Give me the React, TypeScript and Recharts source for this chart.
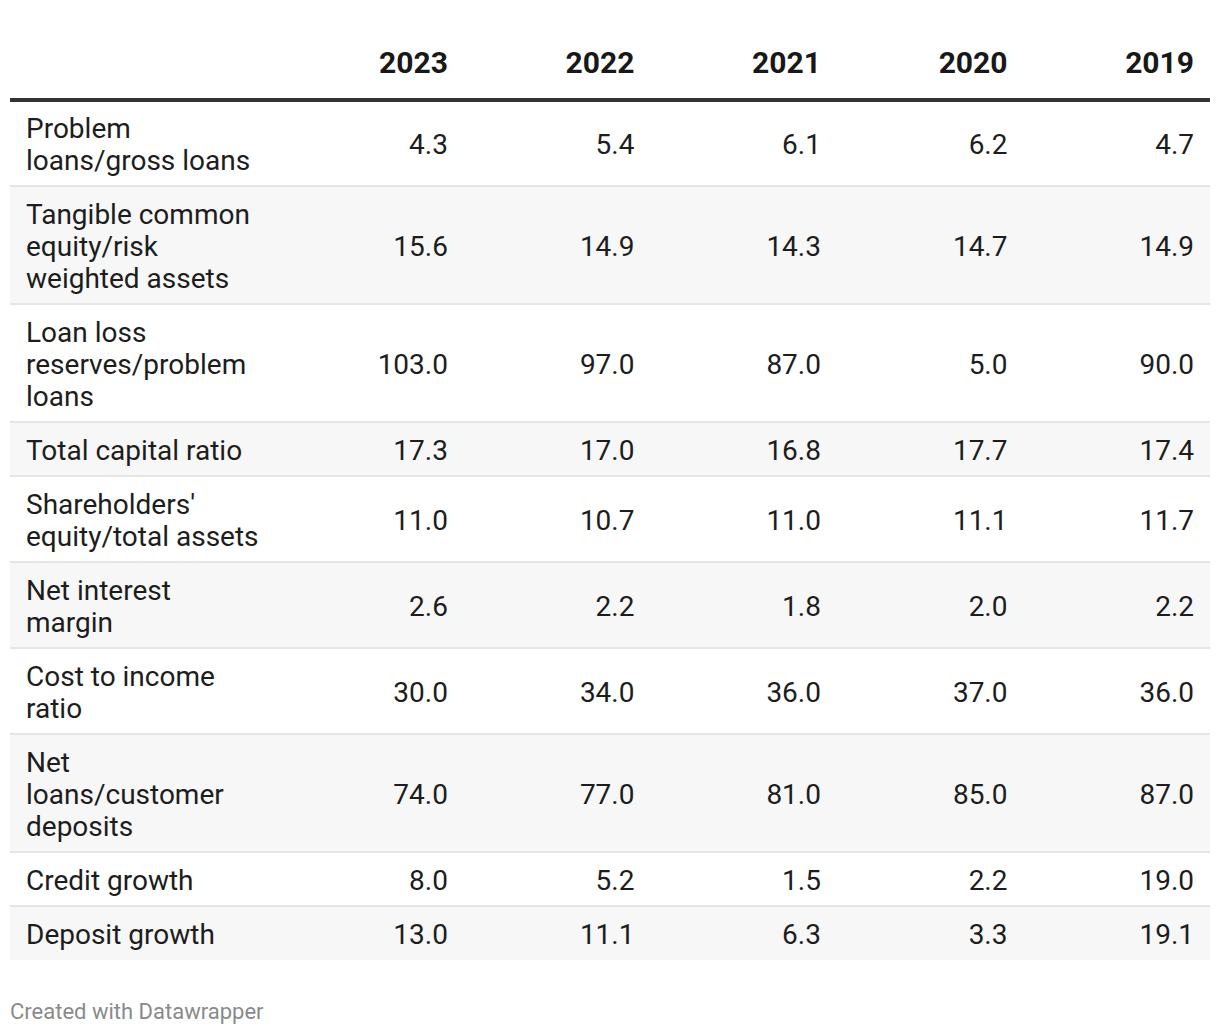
import {
  ComposedChart,
  ReferenceArea,
  ReferenceLine,
  Scatter,
  XAxis,
  YAxis,
} from "recharts";

// column headers
const years = ["2023", "2022", "2021", "2020", "2019"];

// row labels, already broken into lines as in the table
const rowLabels: string[][] = [
  ["Problem", "loans/gross loans"],
  ["Tangible common", "equity/risk", "weighted assets"],
  ["Loan loss", "reserves/problem", "loans"],
  ["Total capital ratio"],
  ["Shareholders'", "equity/total assets"],
  ["Net interest", "margin"],
  ["Cost to income", "ratio"],
  ["Net", "loans/customer", "deposits"],
  ["Credit growth"],
  ["Deposit growth"],
];

const values2023 = [4.3, 15.6, 103.0, 17.3, 11.0, 2.6, 30.0, 74.0, 8.0, 13.0];
const values2022 = [5.4, 14.9, 97.0, 17.0, 10.7, 2.2, 34.0, 77.0, 5.2, 11.1];
const values2021 = [6.1, 14.3, 87.0, 16.8, 11.0, 1.8, 36.0, 81.0, 1.5, 6.3];
const values2020 = [6.2, 14.7, 5.0, 17.7, 11.1, 2.0, 37.0, 85.0, 2.2, 3.3];
const values2019 = [4.7, 14.9, 90.0, 17.4, 11.7, 2.2, 36.0, 87.0, 19.0, 19.1];

const yearValues = [values2023, values2022, values2021, values2020, values2019];

// layout
const FONT = "Roboto, 'Noto Sans', sans-serif";
const LINE_H = 32;
const ROW_PAD = 22;
const LABEL_W = 1.434; // label column width, in value-column units
const CELL_PAD = 16;
const TEXT_COLOR = "#1d1d1d";

const rowHeights = rowLabels.map((l) => ROW_PAD + LINE_H * l.length);
const rowTops = rowHeights.map((_, i) => rowHeights.slice(0, i).reduce((a, b) => a + b, 0));
const tableHeight = rowHeights.reduce((a, b) => a + b, 0);
const xMax = LABEL_W + years.length;

type Cell = { x: number; y: number; lines: string[]; anchor: "start" | "end" };

const cells: Cell[] = [];
rowLabels.forEach((lines, r) => {
  const mid = rowTops[r] + rowHeights[r] / 2;
  cells.push({ x: 0, y: mid, lines, anchor: "start" });
  yearValues.forEach((vals, c) => {
    cells.push({ x: LABEL_W + c + 1, y: mid, lines: [vals[r].toFixed(1)], anchor: "end" });
  });
});

const CellText = (props: any) => {
  const { cx, cy, payload } = props;
  const n = payload.lines.length;
  const tx = payload.anchor === "start" ? cx + CELL_PAD : cx - CELL_PAD;
  return (
    <text
      x={tx}
      y={cy}
      textAnchor={payload.anchor}
      fontFamily={FONT}
      fontSize={28}
      fill={TEXT_COLOR}
    >
      {payload.lines.map((line: string, i: number) => (
        <tspan key={i} x={tx} y={cy + 1 + (i - (n - 1) / 2) * LINE_H} dominantBaseline="central">
          {line}
        </tspan>
      ))}
    </text>
  );
};

const YearTick = (props: any) => {
  const { x, y, index } = props;
  return (
    <text
      x={x - CELL_PAD}
      y={y - 30}
      textAnchor="end"
      dominantBaseline="central"
      fontFamily={FONT}
      fontSize={30}
      fontWeight={700}
      fill="#181818"
    >
      {years[index]}
    </text>
  );
};

export default function App() {
  return (
    <div
      style={{
        position: "absolute",
        left: 0,
        top: 0,
        width: 1220,
        height: 1036,
        background: "#fff",
      }}
    >
      <ComposedChart
        width={1220}
        height={1036}
        data={cells}
        margin={{ top: 40, right: 10, bottom: 76, left: 10 }}
      >
        <XAxis
          type="number"
          dataKey="x"
          orientation="top"
          domain={[0, xMax]}
          ticks={years.map((_, i) => LABEL_W + i + 1)}
          interval={0}
          height={60}
          axisLine={false}
          tickLine={false}
          tick={<YearTick />}
        />
        <YAxis type="number" dataKey="y" domain={[0, tableHeight]} reversed hide />

        {rowLabels.map((_, r) =>
          r % 2 === 1 ? (
            <ReferenceArea
              key={`bg-${r}`}
              y1={rowTops[r]}
              y2={rowTops[r] + rowHeights[r]}
              x1={0}
              x2={xMax}
              fill="#f7f7f7"
              fillOpacity={1}
              stroke="none"
            />
          ) : null
        )}
        {rowTops.slice(1).map((t, i) => (
          <ReferenceLine key={`sep-${i}`} y={t} stroke="#e5e5e5" strokeWidth={2} />
        ))}
        <ReferenceLine y={0} stroke="#333333" strokeWidth={4} />

        <Scatter data={cells} dataKey="y" shape={<CellText />} isAnimationActive={false} />
      </ComposedChart>
      <div
        style={{
          position: "absolute",
          left: 10,
          top: 998,
          fontFamily: FONT,
          fontSize: 22,
          color: "#8a8a8a",
          lineHeight: "28px",
        }}
      >
        Created with Datawrapper
      </div>
    </div>
  );
}
